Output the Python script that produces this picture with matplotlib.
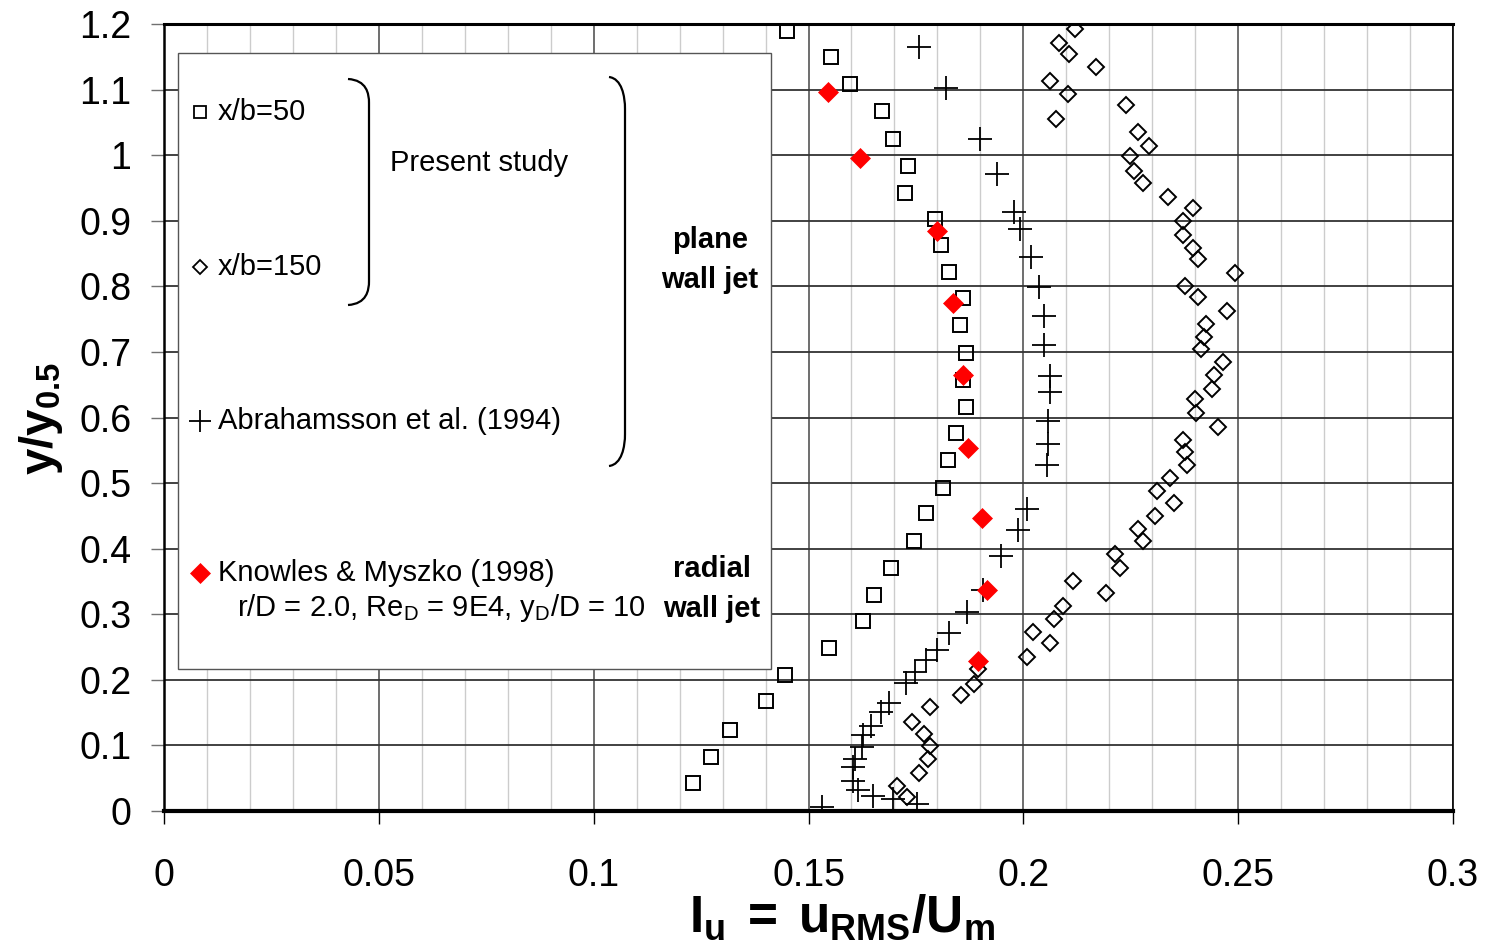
import numpy as np
import matplotlib
matplotlib.use("Agg")
import matplotlib.pyplot as plt
from matplotlib.path import Path
from matplotlib.patches import PathPatch, Rectangle

plt.rcParams['font.family'] = ['Liberation Sans', 'DejaVu Sans']
plt.rcParams['mathtext.fontset'] = 'custom'
plt.rcParams['mathtext.rm'] = 'Liberation Sans'
plt.rcParams['mathtext.it'] = 'Liberation Sans:italic'
plt.rcParams['mathtext.bf'] = 'Liberation Sans:bold'

# ---------------- data ----------------
xb50_x = [0.1449, 0.1552, 0.1597, 0.1672, 0.1697, 0.1732, 0.1724, 0.1795, 0.1808, 0.1826,
          0.1860, 0.1852, 0.1866, 0.1859, 0.1866, 0.1843, 0.1825, 0.1814, 0.1773, 0.1746,
          0.1693, 0.1653, 0.1626, 0.1547, 0.1445, 0.1401, 0.1317, 0.1272, 0.1232]
xb50_y = [1.190, 1.150, 1.109, 1.068, 1.025, 0.984, 0.943, 0.902, 0.863, 0.822,
          0.782, 0.741, 0.698, 0.657, 0.616, 0.576, 0.535, 0.493, 0.454, 0.411,
          0.370, 0.329, 0.289, 0.248, 0.207, 0.167, 0.124, 0.083, 0.042]

xb150_x = [0.2120, 0.2084, 0.2107, 0.2168, 0.2062, 0.2103, 0.2239, 0.2076, 0.2266, 0.2293,
           0.2248, 0.2257, 0.2279, 0.2337, 0.2394, 0.2372, 0.2372, 0.2394, 0.2407, 0.2492,
           0.2376, 0.2407, 0.2474, 0.2425, 0.2421, 0.2413, 0.2465, 0.2444, 0.2438, 0.2399,
           0.2403, 0.2452, 0.2372, 0.2376, 0.2381, 0.2341, 0.2310, 0.2350, 0.2306, 0.2266,
           0.2279, 0.2213, 0.2226, 0.2116, 0.2192, 0.2093, 0.2071, 0.2023, 0.2062, 0.2009,
           0.1895, 0.1885, 0.1854, 0.1783, 0.1740, 0.1769, 0.1783, 0.1779, 0.1757, 0.1707,
           0.1730]
xb150_y = [1.192, 1.171, 1.154, 1.134, 1.113, 1.093, 1.076, 1.055, 1.035, 1.014,
           0.998, 0.976, 0.957, 0.936, 0.920, 0.899, 0.878, 0.859, 0.841, 0.821,
           0.801, 0.783, 0.763, 0.742, 0.722, 0.704, 0.684, 0.665, 0.644, 0.628,
           0.607, 0.586, 0.566, 0.548, 0.527, 0.507, 0.488, 0.470, 0.450, 0.430,
           0.412, 0.392, 0.371, 0.351, 0.333, 0.313, 0.293, 0.273, 0.256, 0.235,
           0.216, 0.194, 0.177, 0.158, 0.136, 0.117, 0.099, 0.079, 0.058, 0.038,
           0.021]

abr_x = [0.1757, 0.1819, 0.1899, 0.1939, 0.1978, 0.1992, 0.2018, 0.2036, 0.2049, 0.2049,
         0.2062, 0.2062, 0.2058, 0.2058, 0.2054, 0.2009, 0.1987, 0.1947, 0.1907, 0.1868,
         0.1828, 0.1798, 0.1773, 0.1748, 0.1727, 0.1688, 0.1668, 0.1645, 0.1626, 0.1624,
         0.1608, 0.1603, 0.1604, 0.1616, 0.1649, 0.1696, 0.1753, 0.1531]
abr_y = [1.165, 1.102, 1.024, 0.971, 0.913, 0.887, 0.844, 0.799, 0.755, 0.711,
         0.664, 0.639, 0.595, 0.559, 0.527, 0.461, 0.429, 0.389, 0.337, 0.303,
         0.272, 0.245, 0.231, 0.212, 0.195, 0.164, 0.151, 0.129, 0.116, 0.098,
         0.080, 0.067, 0.045, 0.032, 0.023, 0.018, 0.010, 0.006]

kno_x = [0.1545, 0.1620, 0.1800, 0.1837, 0.1859, 0.1872, 0.1903, 0.1916, 0.1895]
kno_y = [1.097, 0.995, 0.885, 0.775, 0.665, 0.554, 0.447, 0.337, 0.228]

xtick_vals = [0, 0.05, 0.1, 0.15, 0.2, 0.25, 0.3]
xtick_labels = ['0', '0.05', '0.1', '0.15', '0.2', '0.25', '0.3']
ytick_vals = [0, 0.1, 0.2, 0.3, 0.4, 0.5, 0.6, 0.7, 0.8, 0.9, 1.0, 1.1, 1.2]
ytick_labels = ['0', '0.1', '0.2', '0.3', '0.4', '0.5', '0.6', '0.7', '0.8', '0.9', '1', '1.1', '1.2']

# ---------------- figure ----------------
W, H = 1492, 951
fig = plt.figure(figsize=(W / 100, H / 100), dpi=100)
L, R, T, B = 164, 1453, 24, 811
ax = fig.add_axes([L / W, 1 - B / H, (R - L) / W, (B - T) / H])
ax.set_xlim(0, 0.3)
ax.set_ylim(0, 1.2)


def px(xp, yp):
    return ((xp - L) / (R - L) * 0.3, (B - yp) / (B - T) * 1.2)


ax.set_xticks(xtick_vals)
ax.set_xticklabels(xtick_labels)
ax.set_yticks(ytick_vals)
ax.set_yticklabels(ytick_labels)
ax.set_xticks(np.arange(0, 0.3001, 0.01), minor=True)
ax.tick_params(axis='x', which='major', direction='out', length=9.5, width=1.0,
               pad=24, labelsize=27, color='black')
ax.tick_params(axis='y', which='major', direction='out', length=9.5, width=1.0,
               pad=14, labelsize=27, color='#707070')
ax.tick_params(which='minor', length=0)

ax.grid(which='minor', axis='x', color='#cccccc', lw=1.0, zorder=0)
ax.grid(which='major', axis='x', color='#555555', lw=1.2, zorder=0)
ax.grid(which='major', axis='y', color='#333333', lw=1.3, zorder=0)
ax.set_axisbelow(True)

ax.spines['bottom'].set_linewidth(3.0)
ax.spines['left'].set_linewidth(1.8)
ax.spines['top'].set_linewidth(2.2)
ax.spines['right'].set_linewidth(1.2)

# legend box
x0, y0 = px(178, 669)
x1, y1 = px(771, 53)
ax.add_patch(Rectangle((x0, y0), x1 - x0, y1 - y0, facecolor='white',
                       edgecolor='#555555', lw=1.0, zorder=2.5))

# data
ax.plot(xb50_x, xb50_y, ls='none', marker='s', ms=10.5, mfc='none', mec='black',
        mew=1.4, zorder=3)
ax.plot(xb150_x, xb150_y, ls='none', marker='D', ms=8.5, mfc='none', mec='black',
        mew=1.4, zorder=3)
ax.plot(abr_x, abr_y, ls='none', marker='+', ms=17, mec='black', mew=1.3, zorder=3)
ax.plot(kno_x, kno_y, ls='none', marker='D', ms=10, mfc='red', mec='red',
        mew=0.5, zorder=4)

# legend contents
fs_leg = 21
tx = px(218, 0)[0]
items = [
    (112, dict(marker='s', ms=8.5, mfc='none', mec='black', mew=1.3), 'x/b=50'),
    (267, dict(marker='D', ms=7.5, mfc='none', mec='black', mew=1.3), 'x/b=150'),
    (421, dict(marker='+', ms=16, mec='black', mew=1.3), 'Abrahamsson et al. (1994)'),
    (573, dict(marker='D', ms=10, mfc='red', mec='red', mew=0.5), 'Knowles & Myszko (1998)'),
]
for yp, mk, lab in items:
    mx, my = px(200, yp)
    ax.plot([mx], [my], ls='none', zorder=5, clip_on=False, **mk)
    ax.text(tx, my, lab, fontsize=fs_leg, va='center', ha='left', zorder=5)

rx, ry = px(237, 608)
ax.text(rx, ry, r'r/D = 2.0, Re$_\mathrm{D}$ = 9E4, y$_\mathrm{D}$/D = 10',
        fontsize=fs_leg, va='center', ha='left', zorder=5)
psx, psy = px(390, 163)
ax.text(psx, psy, 'Present study', fontsize=fs_leg, va='center', ha='left', zorder=5)

for (cx, cy, s) in [(710, 240, 'plane'), (710, 280, 'wall jet'),
                    (712, 569, 'radial'), (712, 609, 'wall jet')]:
    dx, dy = px(cx, cy)
    ax.text(dx, dy, s, fontsize=21, fontweight='bold', ha='center', va='center', zorder=5)


# brackets
def bracket(xl, xr, yt, yb, r):
    verts = [px(xl, yt), px(xr - r * 0.1, yt + r * 0.05), px(xr, yt + r * 0.6), px(xr, yt + r),
             px(xr, yb - r),
             px(xr, yb - r * 0.6), px(xr - r * 0.1, yb - r * 0.05), px(xl, yb)]
    codes = [Path.MOVETO, Path.CURVE4, Path.CURVE4, Path.CURVE4,
             Path.LINETO,
             Path.CURVE4, Path.CURVE4, Path.CURVE4]
    ax.add_patch(PathPatch(Path(verts, codes), fill=False, edgecolor='black',
                           lw=1.6, zorder=5))


bracket(348, 369, 79, 305, 24)
bracket(609, 625, 77, 466, 32)

# axis labels
fig.text(842 / W, 1 - 918 / H, r'$\mathbf{I_u\;=\;u_{RMS}/U_m}$', fontsize=37,
         ha='center', va='center')
fig.text(41 / W, 1 - 418 / H, r'$\mathbf{y/y_{0.5}}$', fontsize=34,
         ha='center', va='center', rotation=90)

fig.savefig('out.png', dpi=100)
